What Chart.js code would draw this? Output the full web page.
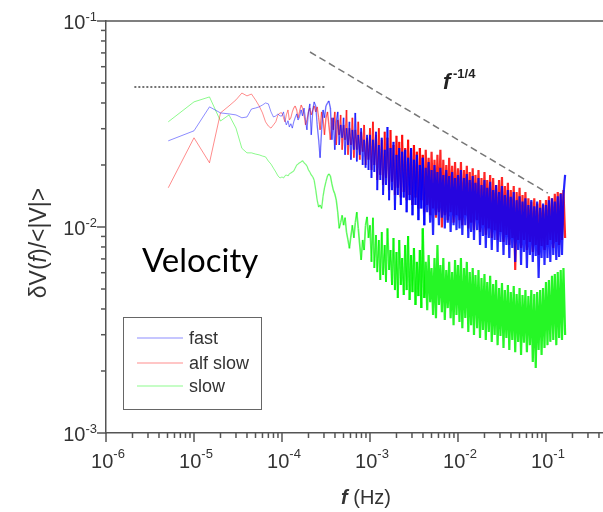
<!DOCTYPE html>
<html>
<head>
<meta charset="utf-8">
<title>Velocity spectra</title>
<script src="https://cdn.jsdelivr.net/npm/chart.js@4.4.0/dist/chart.umd.min.js"></script>
<style>
  html, body { margin: 0; padding: 0; background: #fff; overflow: hidden; }
  #wrap { width: 603px; height: 512px; }
</style>
</head>
<body>
<div id="wrap"><canvas id="spectrum" width="603" height="512"></canvas></div>
<script>
// frequency grid (Hz) shared by the three spectra
const freqs = [
  5.1e-6, 1.0e-5, 1.5e-5, 2.0e-5, 2.5e-5, 3.0e-5, 3.5e-5, 4.0e-5, 4.5e-5, 5.0e-5,
  5.5e-5, 6.0e-5, 6.5e-5, 7.0e-5, 7.5e-5, 8.0e-5, 8.5e-5, 9.0e-5, 9.5e-5,
  1.00e-4, 1.04e-4, 1.08e-4, 1.12e-4, 1.17e-4, 1.21e-4, 1.26e-4, 1.31e-4, 1.36e-4, 1.41e-4,
  1.47e-4, 1.52e-4, 1.58e-4, 1.65e-4, 1.71e-4, 1.78e-4, 1.85e-4, 1.92e-4, 2.00e-4, 2.07e-4,
  2.15e-4, 2.24e-4, 2.32e-4, 2.42e-4, 2.51e-4, 2.61e-4, 2.71e-4, 2.82e-4, 2.93e-4, 3.04e-4,
  3.16e-4, 3.29e-4, 3.41e-4, 3.55e-4, 3.69e-4, 3.83e-4, 3.98e-4, 4.14e-4, 4.30e-4, 4.47e-4,
  4.64e-4, 4.83e-4, 5.01e-4, 5.21e-4, 5.41e-4, 5.62e-4, 5.84e-4, 6.07e-4, 6.31e-4, 6.56e-4,
  6.81e-4, 7.08e-4, 7.36e-4, 7.65e-4, 7.94e-4, 8.25e-4, 8.58e-4, 8.91e-4, 9.26e-4, 9.62e-4,
  1.00e-3, 1.04e-3, 1.08e-3, 1.12e-3, 1.17e-3, 1.21e-3, 1.26e-3, 1.31e-3, 1.36e-3, 1.41e-3,
  1.47e-3, 1.52e-3, 1.58e-3, 1.65e-3, 1.71e-3, 1.78e-3, 1.85e-3, 1.92e-3, 2.00e-3, 2.07e-3,
  2.15e-3, 2.24e-3, 2.32e-3, 2.42e-3, 2.51e-3, 2.61e-3, 2.71e-3, 2.82e-3, 2.93e-3, 3.04e-3,
  3.16e-3, 3.29e-3, 3.41e-3, 3.55e-3, 3.69e-3, 3.83e-3, 3.98e-3, 4.14e-3, 4.30e-3, 4.47e-3,
  4.64e-3, 4.83e-3, 5.01e-3, 5.21e-3, 5.41e-3, 5.62e-3, 5.84e-3, 6.07e-3, 6.31e-3, 6.56e-3,
  6.81e-3, 7.08e-3, 7.36e-3, 7.65e-3, 7.94e-3, 8.25e-3, 8.58e-3, 8.91e-3, 9.26e-3, 9.62e-3,
  1.00e-2, 1.04e-2, 1.08e-2, 1.12e-2, 1.17e-2, 1.21e-2, 1.26e-2, 1.31e-2, 1.36e-2, 1.41e-2,
  1.47e-2, 1.52e-2, 1.58e-2, 1.65e-2, 1.71e-2, 1.78e-2, 1.85e-2, 1.92e-2, 2.00e-2, 2.07e-2,
  2.15e-2, 2.24e-2, 2.32e-2, 2.42e-2, 2.51e-2, 2.61e-2, 2.71e-2, 2.82e-2, 2.93e-2, 3.04e-2,
  3.16e-2, 3.29e-2, 3.41e-2, 3.55e-2, 3.69e-2, 3.83e-2, 3.98e-2, 4.14e-2, 4.30e-2, 4.47e-2,
  4.64e-2, 4.83e-2, 5.01e-2, 5.21e-2, 5.41e-2, 5.62e-2, 5.84e-2, 6.07e-2, 6.31e-2, 6.56e-2,
  6.81e-2, 7.08e-2, 7.36e-2, 7.65e-2, 7.94e-2, 8.25e-2, 8.58e-2, 8.91e-2, 9.26e-2, 9.62e-2,
  1.00e-1, 1.04e-1, 1.08e-1, 1.12e-1, 1.17e-1, 1.21e-1, 1.26e-1, 1.31e-1, 1.36e-1, 1.41e-1,
  1.47e-1, 1.52e-1, 1.58e-1, 1.65e-1
];

// dV(f)/<|V|> for each mode
const fastVel = [
  0.0262, 0.0293, 0.0383, 0.0358, 0.0354, 0.0350, 0.0339, 0.0342, 0.0374, 0.0378,
  0.0383, 0.0391, 0.0400, 0.0396, 0.0362, 0.0342, 0.0346, 0.0354, 0.0346,
  0.0346, 0.0362, 0.0331, 0.0313, 0.0328, 0.0306, 0.0317, 0.0302, 0.0324, 0.0339,
  0.0354, 0.0331, 0.0342, 0.0370, 0.0346, 0.0378, 0.0331, 0.0296, 0.0362, 0.0396,
  0.0280, 0.0370, 0.0405, 0.0387, 0.0313, 0.0265, 0.0217, 0.0296, 0.0370, 0.0339,
  0.0387, 0.0400, 0.0409, 0.0378, 0.0265, 0.0339, 0.0237, 0.0324, 0.0362, 0.0250,
  0.0313, 0.0271, 0.0339, 0.0224, 0.0302, 0.0250, 0.0324, 0.0212, 0.0296, 0.0237,
  0.0358, 0.0208, 0.0280, 0.0224, 0.0302, 0.0200, 0.0265, 0.0194, 0.0280, 0.0189,
  0.0280, 0.0173, 0.0265, 0.0185, 0.0290, 0.0151, 0.0250, 0.0169, 0.0271, 0.0143,
  0.0237, 0.0160, 0.0306, 0.0135, 0.0242, 0.0151, 0.0259, 0.0121, 0.0224, 0.0143,
  0.0242, 0.0128, 0.0232, 0.0139, 0.0237, 0.0118, 0.0217, 0.0135, 0.0242, 0.0114,
  0.0212, 0.0128, 0.0224, 0.0108, 0.0200, 0.0123, 0.0217, 0.0102, 0.0194, 0.0118,
  0.0207, 0.0105, 0.0189, 0.00914, 0.0200, 0.0114, 0.0185, 0.0102, 0.0194, 0.0111,
  0.0179, 0.00985, 0.0189, 0.0105, 0.0177, 0.00945, 0.0185, 0.0102, 0.0173, 0.00966,
  0.0179, 0.00985, 0.0189, 0.00914, 0.0173, 0.0102, 0.0181, 0.00885, 0.0169, 0.00945,
  0.0177, 0.00865, 0.0164, 0.00966, 0.0173, 0.00818, 0.0160, 0.00904, 0.0169, 0.00791,
  0.0155, 0.00885, 0.0166, 0.00773, 0.0151, 0.00865, 0.0160, 0.00756, 0.0148, 0.00846,
  0.0158, 0.00731, 0.0143, 0.00818, 0.0151, 0.00707, 0.0140, 0.00791, 0.0148, 0.00677,
  0.0135, 0.00773, 0.0141, 0.00654, 0.0133, 0.00756, 0.0138, 0.00632, 0.0128, 0.00731,
  0.0135, 0.00677, 0.0126, 0.00723, 0.0133, 0.00566, 0.0124, 0.00707, 0.0130, 0.00654,
  0.0128, 0.00707, 0.0135, 0.00677, 0.0138, 0.00731, 0.0133, 0.00692, 0.0141, 0.00715,
  0.0145, 0.00731, 0.0143, 0.0179
];

const alfSlowVel = [
  0.0155, 0.0271, 0.0205, 0.0358, 0.0387, 0.0414, 0.0447, 0.0433, 0.0442, 0.0414,
  0.0387, 0.0358, 0.0324, 0.0309, 0.0302, 0.0313, 0.0324, 0.0350, 0.0358,
  0.0358, 0.0339, 0.0324, 0.0350, 0.0370, 0.0331, 0.0339, 0.0362, 0.0378, 0.0387,
  0.0370, 0.0339, 0.0362, 0.0391, 0.0378, 0.0350, 0.0313, 0.0331, 0.0362, 0.0378,
  0.0350, 0.0370, 0.0387, 0.0362, 0.0383, 0.0339, 0.0296, 0.0362, 0.0331, 0.0280,
  0.0339, 0.0362, 0.0313, 0.0265, 0.0339, 0.0296, 0.0362, 0.0250, 0.0331, 0.0280,
  0.0350, 0.0237, 0.0313, 0.0265, 0.0370, 0.0224, 0.0302, 0.0250, 0.0339, 0.0217,
  0.0296, 0.0237, 0.0324, 0.0212, 0.0290, 0.0232, 0.0313, 0.0200, 0.0271, 0.0212,
  0.0302, 0.0189, 0.0324, 0.0200, 0.0280, 0.0169, 0.0302, 0.0179, 0.0265, 0.0160,
  0.0290, 0.0173, 0.0271, 0.0151, 0.0296, 0.0166, 0.0250, 0.0143, 0.0277, 0.0155,
  0.0259, 0.0139, 0.0280, 0.0148, 0.0242, 0.0135, 0.0265, 0.0143, 0.0237, 0.0128,
  0.0250, 0.0139, 0.0232, 0.0123, 0.0242, 0.0135, 0.0224, 0.0118, 0.0237, 0.0128,
  0.0217, 0.0114, 0.0232, 0.0123, 0.0212, 0.0111, 0.0224, 0.0118, 0.0237, 0.00995,
  0.0212, 0.0114, 0.0200, 0.0108, 0.0217, 0.0118, 0.0198, 0.0105, 0.0207, 0.0114,
  0.0193, 0.0108, 0.0207, 0.0102, 0.0189, 0.0114, 0.0198, 0.00985, 0.0185, 0.0105,
  0.0193, 0.00966, 0.0179, 0.0108, 0.0189, 0.00945, 0.0173, 0.0102, 0.0185, 0.00914,
  0.0169, 0.00985, 0.0179, 0.00885, 0.0173, 0.00966, 0.0160, 0.00865, 0.0169, 0.00945,
  0.0175, 0.00846, 0.0158, 0.00914, 0.0164, 0.00818, 0.0151, 0.00885, 0.0158, 0.00618,
  0.0148, 0.00865, 0.0155, 0.00791, 0.0143, 0.00865, 0.0148, 0.00773, 0.0138, 0.00846,
  0.0133, 0.00756, 0.0138, 0.00818, 0.0130, 0.00731, 0.0135, 0.00810, 0.0128, 0.00773,
  0.0135, 0.00818, 0.0141, 0.00865, 0.0138, 0.00791, 0.0145, 0.00846, 0.0148, 0.00818,
  0.0146, 0.00865, 0.0151, 0.00885
];

const slowVel = [
  0.0324, 0.0405, 0.0428, 0.0327, 0.0350, 0.0302, 0.0241, 0.0229, 0.0229, 0.0226,
  0.0224, 0.0221, 0.0219, 0.0209, 0.0202, 0.0193, 0.0185, 0.0177, 0.0173,
  0.0175, 0.0173, 0.0177, 0.0179, 0.0177, 0.0181, 0.0183, 0.0185, 0.0187, 0.0193,
  0.0200, 0.0202, 0.0205, 0.0207, 0.0210, 0.0205, 0.0202, 0.0198, 0.0189, 0.0185,
  0.0179, 0.0175, 0.0169, 0.0151, 0.0135, 0.0125, 0.0128, 0.0123, 0.0141, 0.0155,
  0.0166, 0.0177, 0.0181, 0.0177, 0.0162, 0.0151, 0.0145, 0.0135, 0.0118, 0.00985,
  0.0105, 0.0114, 0.0102, 0.0111, 0.00945, 0.00865, 0.00788, 0.00904, 0.0102, 0.00885,
  0.0105, 0.0118, 0.00985, 0.00818, 0.00692, 0.00865, 0.00773, 0.0102, 0.0112, 0.00885,
  0.0102, 0.00677, 0.0111, 0.00632, 0.00914, 0.00604, 0.00865, 0.00553, 0.00945, 0.00585,
  0.00818, 0.00541, 0.00985, 0.00618, 0.00773, 0.00523, 0.00885, 0.00494, 0.00756, 0.00452,
  0.00865, 0.00523, 0.00707, 0.00468, 0.00818, 0.00494, 0.00904, 0.00442, 0.00731, 0.00483,
  0.00791, 0.00418, 0.00677, 0.00462, 0.00773, 0.00404, 0.00985, 0.00452, 0.00677, 0.00395,
  0.00731, 0.00432, 0.00632, 0.00374, 0.00707, 0.00361, 0.00818, 0.00418, 0.00654, 0.00386,
  0.00707, 0.00354, 0.00618, 0.00404, 0.00677, 0.00361, 0.00604, 0.00334, 0.00692, 0.00374,
  0.00654, 0.00346, 0.00707, 0.00323, 0.00632, 0.00362, 0.00677, 0.00309, 0.00604, 0.00334,
  0.00632, 0.00299, 0.00585, 0.00323, 0.00618, 0.00289, 0.00566, 0.00316, 0.00591, 0.00283,
  0.00541, 0.00309, 0.00579, 0.00277, 0.00529, 0.00299, 0.00553, 0.00267, 0.00506, 0.00296,
  0.00535, 0.00259, 0.00494, 0.00289, 0.00523, 0.00253, 0.00483, 0.00283, 0.00517, 0.00247,
  0.00473, 0.00277, 0.00506, 0.00239, 0.00468, 0.00274, 0.00494, 0.00247, 0.00462, 0.00267,
  0.00494, 0.00221, 0.00473, 0.00207, 0.00483, 0.00253, 0.00494, 0.00239, 0.00506, 0.00259,
  0.00541, 0.00267, 0.00553, 0.00277, 0.00579, 0.00283, 0.00591, 0.00267, 0.00604, 0.00289,
  0.00618, 0.00283, 0.00632, 0.00299
];

// guide lines: flat plateau and the f^-1/4 slope
const flatRefF = [2.1e-6, 3.1e-4];
const flatRefV = [0.0478, 0.0478];
const slopeRefF = [2.08e-4, 0.105];
const slopeRefV = [0.0707, 0.0146];

const seriesNames = ['fast', 'alf slow', 'slow'];
const seriesRgb = ['0, 0, 255', '255, 0, 0', '0, 245, 0'];
const xTickExps = [-6, -5, -4, -3, -2, -1];
const yTickExps = [-3, -2, -1];

const SANS = '"Liberation Sans", Arial, sans-serif';
const AXIS = '#555';
const INK = '#333';

const toPoints = (xs, ys) => xs.map((x, i) => ({ x: x, y: ys[i] }));
const rgba = (rgb, a) => 'rgba(' + rgb + ', ' + a + ')';

function strokeLine(ctx, x1, y1, x2, y2) {
    ctx.beginPath();
    ctx.moveTo(x1, y1);
    ctx.lineTo(x2, y2);
    ctx.stroke();
}

// "10" with a raised exponent, anchored at x; y is the baseline of "10"
function drawPower(ctx, exp, x, y, align, rise) {
    const sup = String(exp);
    ctx.font = '20px ' + SANS;
    const bw = ctx.measureText('10').width;
    ctx.font = '13px ' + SANS;
    const sw = ctx.measureText(sup).width;
    const left = align === 'right' ? x - bw - sw : x - (bw + sw) / 2;
    ctx.font = '20px ' + SANS;
    ctx.fillText('10', left, y);
    ctx.font = '13px ' + SANS;
    ctx.fillText(sup, left + bw, y - rise);
}

// draw a run of [text, font] pieces side by side, centred on cx
function drawRun(ctx, parts, cx, y) {
    let total = 0;
    parts.forEach(p => { ctx.font = p[1]; total += ctx.measureText(p[0]).width; });
    let x = cx - total / 2;
    parts.forEach(p => {
        ctx.font = p[1];
        ctx.fillText(p[0], x, y);
        x += ctx.measureText(p[0]).width;
    });
}

const frame = {
    id: 'frame',
    afterDraw(chart) {
        const { ctx, chartArea: a, scales: { x, y } } = chart;
        ctx.save();
        ctx.strokeStyle = AXIS;
        ctx.lineWidth = 1.5;

        // top edge of the box
        strokeLine(ctx, a.left, a.top, a.right, a.top);

        // x ticks: decades long, 2..9 short, pointing down
        xTickExps.forEach(e => {
            for (let m = 1; m < 10; m++) {
                const px = x.getPixelForValue(m * Math.pow(10, e));
                if (px > a.right) break;
                strokeLine(ctx, px, a.bottom, px, a.bottom + (m === 1 ? 9 : 5));
            }
        });
        // y ticks, pointing left
        yTickExps.forEach(e => {
            for (let m = 1; m < 10; m++) {
                if (e === -1 && m > 1) break;
                const py = y.getPixelForValue(m * Math.pow(10, e));
                strokeLine(ctx, a.left, py, a.left - (m === 1 ? 9 : 5), py);
            }
        });

        // tick labels
        ctx.fillStyle = INK;
        ctx.textBaseline = 'alphabetic';
        ctx.textAlign = 'left';
        xTickExps.forEach(e => {
            drawPower(ctx, e, x.getPixelForValue(Math.pow(10, e)) + 2, a.bottom + 35, 'center', 10);
        });
        yTickExps.forEach(e => {
            drawPower(ctx, e, a.left - 9, y.getPixelForValue(Math.pow(10, e)) + 8, 'right', 8);
        });

        // axis titles
        const it = 'italic 23px ' + SANS;
        const rg = '23px ' + SANS;
        ctx.save();
        ctx.translate(46, 243);
        ctx.rotate(-Math.PI / 2);
        drawRun(ctx, [['\u03B4V(', rg], ['f', it], [')/<|V|>', rg]], 0, 0);
        ctx.restore();
        drawRun(ctx, [['f', 'italic bold 20px ' + SANS], [' (Hz)', '20px ' + SANS]], 366, 504);

        // slope annotation
        ctx.fillStyle = '#222';
        ctx.font = 'italic bold 22px ' + SANS;
        ctx.fillText('f', 443, 89);
        ctx.font = 'bold 13px ' + SANS;
        ctx.fillText('-1/4', 453, 78);

        // panel name
        ctx.fillStyle = '#000';
        ctx.font = '33px Lato, "Open Sans", sans-serif';
        ctx.fillText('Velocity', 142, 272);

        // legend box
        ctx.strokeStyle = '#666';
        ctx.lineWidth = 1;
        ctx.strokeRect(123.5, 317.5, 138, 92);
        const rows = [338, 363, 386];
        ctx.font = '18px ' + SANS;
        ctx.textBaseline = 'middle';
        seriesNames.forEach((name, i) => {
            ctx.strokeStyle = rgba(seriesRgb[i], 0.3);
            ctx.lineWidth = 1.5;
            strokeLine(ctx, 137, rows[i], 183, rows[i]);
            ctx.fillStyle = INK;
            ctx.fillText(name, 189, rows[i] + 1);
        });
        ctx.restore();
    }
};

// 0 where the spectrum is sparse (low f), 1 where it is a dense band
const density = c => {
    const t = (Math.log10(c.p0.parsed.x) + 4) / 1.6;
    return Math.min(1, Math.max(0, t));
};
const spectrumWidth = c => 1 + 1.2 * density(c);
const spectrumColor = rgb => c => rgba(rgb, (0.45 + 0.4 * density(c)).toFixed(2));

const spectrumSet = i => ({
    label: seriesNames[i],
    data: toPoints(freqs, [fastVel, alfSlowVel, slowVel][i]),
    borderColor: rgba(seriesRgb[i], 0.5),
    showLine: true, pointRadius: 0, borderWidth: 1, tension: 0,
    borderJoinStyle: 'bevel',
    segment: { borderWidth: spectrumWidth, borderColor: spectrumColor(seriesRgb[i]) }
});

new Chart(document.getElementById('spectrum'), {
    type: 'scatter',
    data: {
        datasets: [
            { label: 'plateau', data: toPoints(flatRefF, flatRefV), showLine: true, pointRadius: 0,
              borderColor: '#444', borderWidth: 1.5, borderDash: [2, 2] },
            { label: 'slope', data: toPoints(slopeRefF, slopeRefV), showLine: true, pointRadius: 0,
              borderColor: '#777', borderWidth: 1.5, borderDash: [7, 4] },
            spectrumSet(0),
            spectrumSet(1),
            spectrumSet(2)
        ]
    },
    options: {
        responsive: false,
        devicePixelRatio: 1,
        animation: false,
        events: [],
        layout: { padding: { top: 21, right: 0, bottom: 0, left: 0 } },
        plugins: { legend: { display: false }, tooltip: { enabled: false } },
        scales: {
            x: {
                type: 'logarithmic',
                min: 1e-6,
                max: 0.4446,
                grid: { display: false, drawTicks: false },
                border: { display: true, color: AXIS, width: 1.5 },
                ticks: { display: false },
                afterFit: s => { s.height = 79; }
            },
            y: {
                type: 'logarithmic',
                min: 1e-3,
                max: 1e-1,
                grid: { display: false, drawTicks: false },
                border: { display: true, color: AXIS, width: 1.5 },
                ticks: { display: false },
                afterFit: s => { s.width = 106; }
            }
        }
    },
    plugins: [frame]
});
</script>
</body>
</html>
